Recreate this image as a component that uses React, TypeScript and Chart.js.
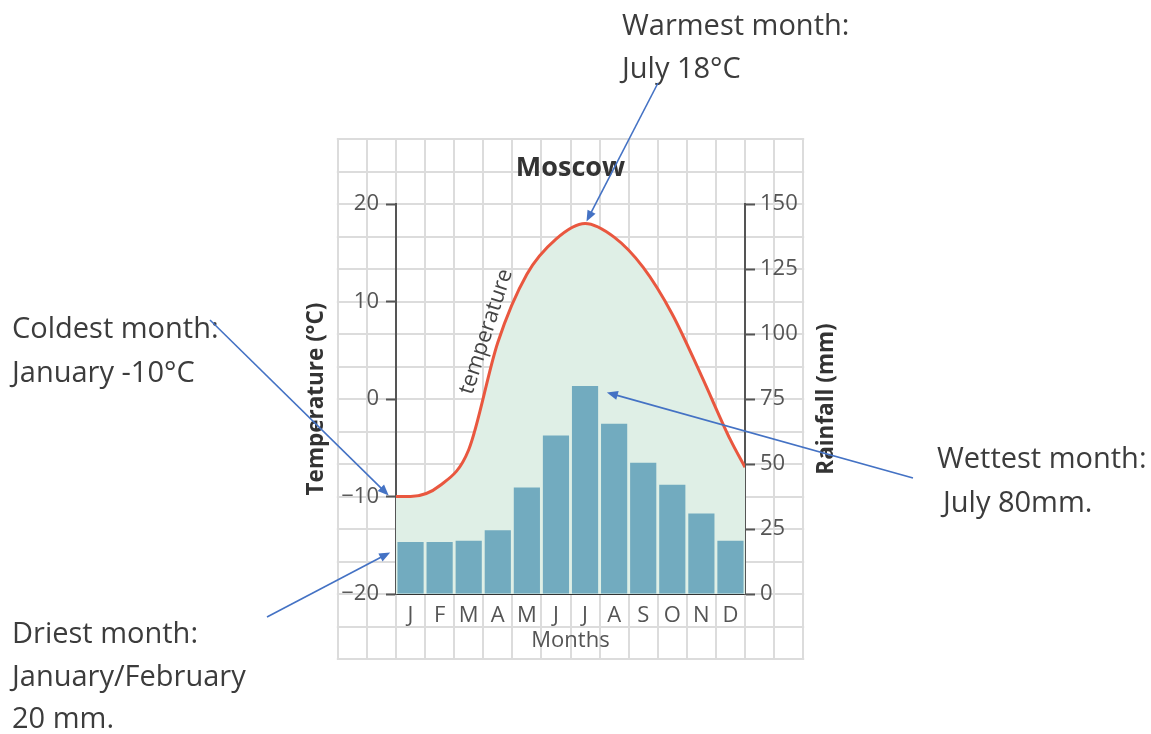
import React, { useEffect, useRef } from "react";
import { Chart, registerables } from "chart.js";

Chart.register(...registerables);

// ---------- data ----------
const months = ["J", "F", "M", "A", "M", "J", "J", "A", "S", "O", "N", "D"];
const rainfall = [20, 20, 20.5, 24.5, 41, 61, 80, 65.5, 50.5, 42, 31, 20.5];
const temperature = [-10, -8.9, -5.2, 5.8, 12.8, 16.4, 18, 16.6, 13.5, 8.7, 2.4, -4.2];
const tempStartOfYear = -10;
const tempEndOfYear = -7;
const tempTicks = [-20, -10, 0, 10, 20];
const rainTicks = [0, 25, 50, 75, 100, 125, 150];

const FONT = '"Open Sans", "Noto Sans", sans-serif';

const tempLine = [
  { x: 0, y: tempStartOfYear },
  ...temperature.map((t, i) => ({ x: i + 0.5, y: t })),
  { x: 12, y: tempEndOfYear },
];

const fmt = (v: number) => String(v).replace("-", "\u2212");

function drawArrow(ctx: CanvasRenderingContext2D, x1: number, y1: number, x2: number, y2: number) {
  const ang = Math.atan2(y2 - y1, x2 - x1);
  const len = 11;
  const hw = 4.5;
  ctx.beginPath();
  ctx.moveTo(x1, y1);
  ctx.lineTo(x2 - Math.cos(ang) * len * 0.8, y2 - Math.sin(ang) * len * 0.8);
  ctx.stroke();
  ctx.beginPath();
  ctx.moveTo(x2, y2);
  ctx.lineTo(x2 - Math.cos(ang) * len + Math.sin(ang) * hw, y2 - Math.sin(ang) * len - Math.cos(ang) * hw);
  ctx.lineTo(x2 - Math.cos(ang) * len - Math.sin(ang) * hw, y2 - Math.sin(ang) * len + Math.cos(ang) * hw);
  ctx.closePath();
  ctx.fill();
}

const decorPlugin = {
  id: "decor",
  beforeDraw(chart: any) {
    const { ctx } = chart;
    const xl = chart.scales.xl;
    const r = chart.scales.y2;
    const extraCols = 2;
    const step = 12.5;
    const rMin = -2 * step;
    const rMax = 150 + 2 * step;
    const top = r.getPixelForValue(rMax);
    const bottom = r.getPixelForValue(rMin);
    const left = xl.getPixelForValue(-extraCols);
    const right = xl.getPixelForValue(12 + extraCols);
    ctx.save();
    ctx.strokeStyle = "#dcdcdc";
    ctx.lineWidth = 2;
    ctx.beginPath();
    for (let v = -extraCols; v <= 12 + extraCols; v++) {
      const px = Math.round(xl.getPixelForValue(v));
      ctx.moveTo(px, top - 1);
      ctx.lineTo(px, bottom + 1);
    }
    for (let v = rMin; v <= rMax + 0.01; v += step) {
      const py = Math.round(r.getPixelForValue(v));
      ctx.moveTo(left - 1, py);
      ctx.lineTo(right + 1, py);
    }
    ctx.stroke();
    ctx.restore();
  },
  afterDraw(chart: any) {
    const { ctx, chartArea } = chart;
    const xl = chart.scales.xl;
    const y = chart.scales.y;
    const r = chart.scales.y2;
    ctx.save();

    // curve label
    ctx.save();
    ctx.translate(xl.getPixelForValue(3.1), y.getPixelForValue(6.9));
    ctx.rotate((-72 * Math.PI) / 180);
    ctx.font = `22px ${FONT}`;
    ctx.fillStyle = "#444";
    ctx.textAlign = "center";
    ctx.textBaseline = "middle";
    ctx.fillText("temperature", 0, 0);
    ctx.restore();

    // right axis title (reads bottom-to-top)
    ctx.save();
    ctx.translate(chartArea.right + 82, (chartArea.top + chartArea.bottom) / 2);
    ctx.rotate(-Math.PI / 2);
    ctx.font = `bold 22.5px ${FONT}`;
    ctx.fillStyle = "#333";
    ctx.textAlign = "center";
    ctx.textBaseline = "middle";
    ctx.fillText("Rainfall (mm)", 0, 0);
    ctx.restore();

    // annotation texts
    ctx.font = `29px ${FONT}`;
    ctx.fillStyle = "#3c3c3c";
    ctx.textAlign = "left";
    ctx.textBaseline = "alphabetic";
    const notes: [string, number, number][] = [
      ["Warmest month:", 622, 35],
      ["July 18°C", 622, 78],
      ["Coldest month:", 12, 338],
      ["January -10°C", 12, 382],
      ["Driest month:", 12, 643],
      ["January/February", 12, 686],
      ["20 mm.", 12, 728],
      ["Wettest month:", 937, 468],
      ["July 80mm.", 943, 512],
    ];
    for (const [t, x, yy] of notes) ctx.fillText(t, x, yy);

    // arrows
    ctx.strokeStyle = "#4472c4";
    ctx.fillStyle = "#4472c4";
    ctx.lineWidth = 1.6;
    drawArrow(ctx, 658, 83, xl.getPixelForValue(6.55), y.getPixelForValue(18.2));
    drawArrow(ctx, 210, 320, xl.getPixelForValue(-0.25), y.getPixelForValue(-9.9));
    drawArrow(ctx, 267, 617, xl.getPixelForValue(-0.2), r.getPixelForValue(16));
    drawArrow(ctx, 913, 478, xl.getPixelForValue(7.25), r.getPixelForValue(77.5));

    ctx.restore();
  },
};

const tickFont = { family: FONT, size: 22 };

export default function App() {
  const ref = useRef<HTMLCanvasElement>(null);

  useEffect(() => {
    if (!ref.current) return;
    const chart = new Chart(ref.current, {
      type: "bar",
      data: {
        labels: months,
        datasets: [
          {
            type: "line",
            label: "Temperature",
            data: tempLine as any,
            xAxisID: "xl",
            yAxisID: "y",
            borderColor: "#e9573f",
            borderWidth: 3,
            pointRadius: 0,
            fill: "start",
            backgroundColor: "#dfefe6",
            cubicInterpolationMode: "monotone",
            order: 0,
          } as any,
          {
            type: "bar",
            label: "Rainfall",
            data: rainfall,
            xAxisID: "x",
            yAxisID: "y2",
            backgroundColor: "#72abbf",
            borderWidth: 0,
            grouped: false,
            barPercentage: 0.9,
            categoryPercentage: 1,
            order: 1,
          } as any,
        ],
      },
      options: {
        responsive: false,
        animation: false,
        devicePixelRatio: 1,
        layout: { padding: { left: 300, right: 321, top: 0, bottom: 80 } },
        plugins: {
          legend: { display: false },
          tooltip: { enabled: false },
          filler: { drawTime: "beforeDatasetsDraw" },
          title: {
            display: true,
            text: "Moscow",
            fullSize: false,
            color: "#333",
            font: { family: FONT, size: 27, weight: "bold", lineHeight: 1.2 },
            padding: { top: 152, bottom: 19.6 },
          },
        } as any,
        scales: {
          x: {
            type: "category",
            position: "bottom",
            offset: true,
            grid: { display: false },
            border: { display: true, color: "#333", width: 2 },
            ticks: { color: "#555", font: tickFont, padding: 1, maxRotation: 0, autoSkip: false },
            title: {
              display: true,
              text: "Months",
              color: "#555",
              font: { family: FONT, size: 22, lineHeight: 1.2 },
              padding: { top: 0, bottom: 0 },
            },
            afterFit(s: any) {
              s.height = 60;
            },
          },
          xl: { type: "linear", display: false, offset: false, min: 0, max: 12, grid: { offset: false } },
          y: {
            type: "linear",
            position: "left",
            min: -20,
            max: 20,
            afterBuildTicks(s: any) {
              s.ticks = tempTicks.map((v) => ({ value: v }));
            },
            ticks: { color: "#555", font: tickFont, padding: 7, callback: (v: any) => fmt(v) },
            grid: { drawOnChartArea: false, drawTicks: true, tickLength: 10, tickColor: "#555", tickWidth: 2 },
            border: { display: true, color: "#555", width: 2 },
            title: {
              display: true,
              text: "Temperature (°C)",
              color: "#333",
              font: { family: FONT, size: 22.5, weight: "bold", lineHeight: 1.2 },
              padding: { top: 3, bottom: 0 },
            },
            afterFit(s: any) {
              s.width = 96;
            },
          },
          y2: {
            type: "linear",
            position: "right",
            min: 0,
            max: 150,
            afterBuildTicks(s: any) {
              s.ticks = rainTicks.map((v) => ({ value: v }));
            },
            ticks: { color: "#555", font: tickFont, padding: 5, callback: (v: any) => fmt(v) },
            grid: { drawOnChartArea: false, drawTicks: true, tickLength: 10, tickColor: "#555", tickWidth: 2 },
            border: { display: true, color: "#555", width: 2 },
            afterFit(s: any) {
              s.width = 85;
            },
          },
        } as any,
      },
      plugins: [decorPlugin as any],
    });
    let alive = true;
    if ((document as any).fonts && (document as any).fonts.ready) {
      (document as any).fonts.ready.then(() => {
        if (alive) chart.update();
      });
    }
    return () => {
      alive = false;
      chart.destroy();
    };
  }, []);

  return (
    <div style={{ position: "fixed", left: 0, top: 0, width: 1151, height: 734, background: "#fff" }}>
      <canvas ref={ref} width={1151} height={734} style={{ display: "block", width: 1151, height: 734 }} />
    </div>
  );
}
